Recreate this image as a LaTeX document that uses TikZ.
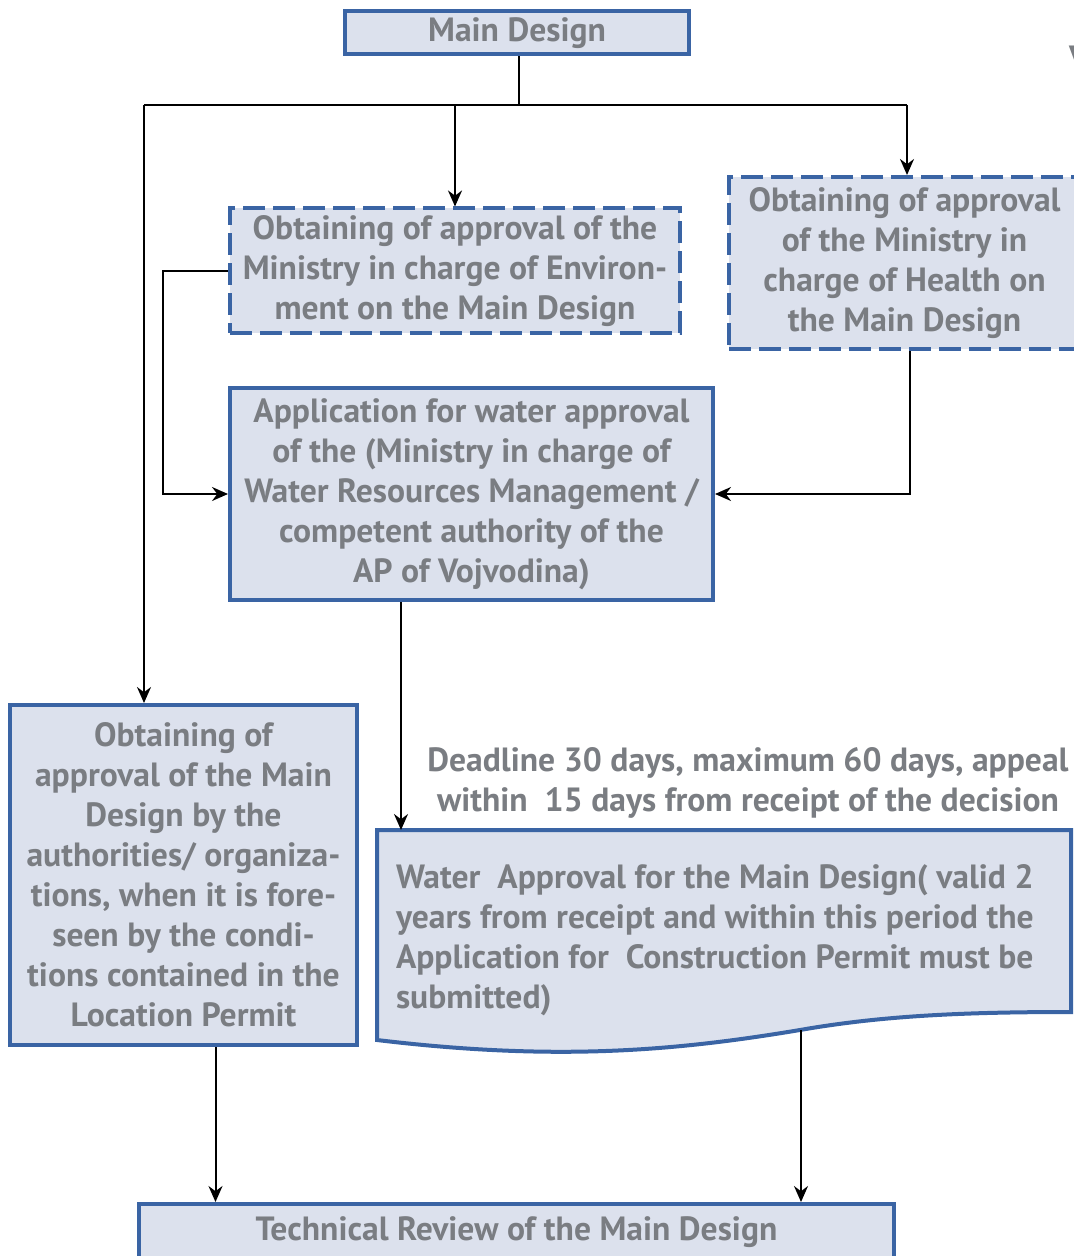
\documentclass[tikz,border=0pt]{standalone}
\usepackage{fontspec}
\setmainfont{PT Sans}
\usepackage{tikz}
\usetikzlibrary{arrows.meta}
\usetikzlibrary{positioning}

\definecolor{boxfill}{RGB}{220,225,237}
\definecolor{boxline}{RGB}{58,100,164}
\definecolor{txtgrey}{RGB}{122,125,130}

\begin{document}
\begin{tikzpicture}[x=0.5pt,y=-0.5pt,line width=1pt,
    arrow/.style={-{Stealth[length=8pt,width=7pt]}}]
  \tikzset{box/.style={draw=boxline,line width=2pt,fill=boxfill,text=txtgrey,
      font=\fontsize{16.8}{20}\selectfont\bfseries,align=center,inner sep=0pt},
    dbox/.style={box,dash pattern=on 11pt off 4pt},
    label text/.style={text=txtgrey,font=\fontsize{16.8}{20}\selectfont\bfseries,inner sep=0pt}}
  \useasboundingbox (0,0) rectangle (1074,1256);

  \node[box,minimum width=172pt,minimum height=21.5pt] (main) at (517,33) {Main Design};
  \node[dbox,minimum width=225pt,minimum height=62.5pt] (env) at (455,271)
    {Obtaining of approval of the\\Ministry in charge of Environ-\\ment on the Main Design};
  \node[dbox,minimum width=175.5pt,minimum height=86pt] (health) at (904.5,263)
    {Obtaining of approval\\of the Ministry in\\charge of Health on\\the Main Design};
  \node[box,minimum width=241.5pt,minimum height=106pt] (app) at (471.5,494)
    {Application for water approval\\of the (Ministry in charge of\\Water Resources Management /\\competent authority of the\\AP of Vojvodina)};
  \node[box,minimum width=173.5pt,minimum height=170pt] (loc) at (183.5,875)
    {Obtaining of\\approval of the Main\\Design by the\\authorities/ organiza-\\tions, when it is fore-\\seen by the condi-\\tions contained in the\\Location Permit};
  \node[box,minimum width=377.5pt,minimum height=28pt] (tech) at (516.5,1232)
    {Technical Review of the Main Design};

  % water approval document
  \draw[draw=boxline,line width=2pt,fill=boxfill] (377,830) -- (1071,830) -- (1071,1012)
    .. controls (960,1012) and (880,1016) .. (800,1030)
    .. controls (680,1050) and (560,1062) .. (377,1040) -- cycle;
  \node[label text,align=left,anchor=north west] (water) at (395,863)
    {Water\ \ Approval for the Main Design( valid 2\\years from receipt and within this period the\\Application for\ \ Construction Permit must be\\submitted)};
  \coordinate (wtop) at (401,830);
  \coordinate (wbot) at (801,1030);

  \node[label text,align=center] (deadline) at (748,783)
    {Deadline 30 days, maximum 60 days, appeal\\within\ \ 15 days from receipt of the decision};
  \node[label text,anchor=west] (cut) at (1068,58) {V};

  \coordinate (bus) at (519,105);
  \coordinate (busL) at (144,105);
  \coordinate (busR) at (907,105);

  \draw (main.south -| bus) -- (bus);
  \draw (busL) -- (busR);
  \draw[arrow] (busL) -- (busL |- loc.north);
  \draw[arrow] (env.north |- bus) -- (env.north);
  \draw[arrow] (busR) -- (busR |- health.north);
  \draw[arrow] (env.west) -- ++(-65,0) |- (app.west);
  \draw[arrow] ([xshift=2.5pt]health.south) |- (app.east);
  \draw[arrow] (app.south -| wtop) -- (wtop);
  \draw[arrow] ([xshift=16pt]loc.south) -- ([xshift=16pt]loc.south |- tech.north);
  \draw[arrow] (wbot) -- (wbot |- tech.north);
\end{tikzpicture}
\end{document}
